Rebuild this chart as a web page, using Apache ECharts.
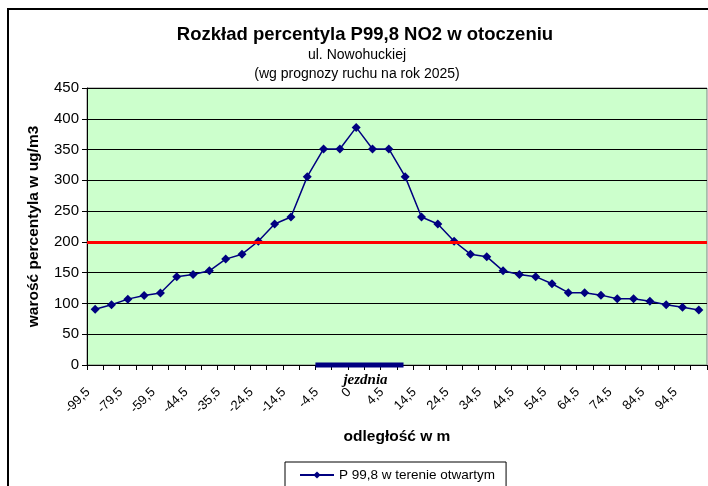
<!DOCTYPE html>
<html>
<head>
<meta charset="utf-8">
<script src="https://cdn.jsdelivr.net/npm/echarts@6/dist/echarts.min.js"></script>
<style>
  html, body { margin: 0; padding: 0; background: #fff; }
  #chart { width: 708px; height: 486px; }
</style>
</head>
<body>
<div id="chart"></div>
<script>
// odległość od osi jezdni [m] - co druga etykieta jest widoczna
const categories = [
  '-99,5', '-89,5', '-79,5', '-69,5', '-59,5', '-49,5', '-44,5', '-39,5', '-35,5', '-29,5',
  '-24,5', '-19,5', '-14,5', '-9,5', '-4,5', '-2', '0', '2', '4,5', '9,5',
  '14,5', '19,5', '24,5', '29,5', '34,5', '39,5', '44,5', '49,5', '54,5', '59,5',
  '64,5', '69,5', '74,5', '79,5', '84,5', '89,5', '94,5', '99,5'
];
// P99,8 NO2 [ug/m3]
const p998Values = [
  90.5, 98, 107, 113, 117, 143.5, 147, 153, 172, 180,
  201, 229, 240.5, 306, 351, 351, 386, 351, 351, 306,
  240.5, 229, 201, 180, 176, 153, 147, 143.5, 132, 117.5,
  117.5, 113.5, 107.5, 107.5, 103.5, 98, 94, 89.5
];
const limitValue = 200;       // wartość dopuszczalna
const yMin = 0, yMax = 450, yStep = 50;
// zakres jezdni w indeksach kategorii
const roadFrom = 13.5, roadTo = 18.9;

const FONT = '"Liberation Sans", Arial, sans-serif';

const chart = echarts.init(document.getElementById('chart'));

chart.setOption({
  animation: false,
  backgroundColor: '#fff',
  grid: {
    left: 87, right: 1, top: 88, bottom: 121,
    show: true,
    backgroundColor: '#CCFFCC',
    borderColor: '#808080',
    borderWidth: 1,
    outerBoundsMode: 'none'
  },
  legend: {
    left: 285, top: 462,
    padding: [6, 11, 6, 14],
    borderColor: '#000', borderWidth: 1,
    itemWidth: 34, itemHeight: 9,
    textStyle: { fontFamily: FONT, fontSize: 13.5, color: '#000' },
    data: ['P 99,8 w terenie otwartym']
  },
  xAxis: {
    type: 'category',
    data: categories,
    boundaryGap: true,
    name: 'odległość w m',
    nameLocation: 'middle',
    nameGap: 64,
    nameTextStyle: { fontFamily: FONT, fontSize: 15.5, fontWeight: 'bold', color: '#000' },
    axisLine: { lineStyle: { color: '#000', width: 1 } },
    axisTick: { show: true, interval: 0, length: 5, lineStyle: { color: '#000' } },
    axisLabel: { interval: 1, rotate: 45, margin: 18, padding: [0, 10, 0, 0],
                 fontFamily: FONT, fontSize: 13, color: '#000' },
    splitLine: { show: false }
  },
  yAxis: {
    type: 'value',
    min: yMin, max: yMax, interval: yStep,
    name: 'warość percentyla w ug/m3',
    nameLocation: 'middle',
    nameRotate: 90,
    nameGap: 45,
    nameTextStyle: { fontFamily: FONT, fontSize: 15.5, fontWeight: 'bold', color: '#000' },
    axisLine: { show: true, lineStyle: { color: '#000', width: 1 } },
    axisTick: { show: true, length: 5, lineStyle: { color: '#000' } },
    axisLabel: { margin: 8, fontFamily: FONT, fontSize: 15, color: '#000' },
    splitLine: { show: true, lineStyle: { color: '#000', width: 1 } }
  },
  series: [{
    name: 'P 99,8 w terenie otwartym',
    type: 'line',
    data: p998Values,
    symbol: 'diamond',
    symbolSize: 9,
    lineStyle: { color: '#000080', width: 1.5 },
    itemStyle: { color: '#000080' },
    z: 3,
    markLine: {
      silent: true,
      symbol: 'none',
      label: { show: false },
      lineStyle: { color: '#FF0000', width: 3, type: 'solid' },
      data: [{ yAxis: limitValue }]
    }
  }],
  graphic: [
    { id: 'frame', type: 'rect', shape: { x: 8, y: 9, width: 800, height: 600 },
      style: { fill: 'none', stroke: '#000', lineWidth: 2 }, silent: true },
    { id: 't1', type: 'text', x: 365, y: 35,
      style: { text: 'Rozkład percentyla P99,8 NO2 w otoczeniu', font: 'bold 18.5px ' + FONT,
               fill: '#000', align: 'center', verticalAlign: 'middle' } },
    { id: 't2', type: 'text', x: 357, y: 55,
      style: { text: 'ul. Nowohuckiej', font: '14px ' + FONT,
               fill: '#000', align: 'center', verticalAlign: 'middle' } },
    { id: 't3', type: 'text', x: 357, y: 74,
      style: { text: '(wg prognozy ruchu na rok 2025)', font: '14px ' + FONT,
               fill: '#000', align: 'center', verticalAlign: 'middle' } }
  ]
});

// jezdnia - pasek na osi X liczony ze skali osi
const p0 = chart.convertToPixel({ xAxisIndex: 0 }, 0);
const p1 = chart.convertToPixel({ xAxisIndex: 0 }, 1);
const step = p1 - p0;
const axisY = chart.convertToPixel({ yAxisIndex: 0 }, 0);
const xFrom = p0 + step * roadFrom;
const xTo = p0 + step * roadTo;

chart.setOption({
  graphic: [
    { id: 'road', type: 'rect', z: 100,
      shape: { x: xFrom, y: axisY - 2.5, width: xTo - xFrom, height: 5 },
      style: { fill: '#000080' } },
    { id: 'roadLabel', type: 'text', z: 100, x: (xFrom + xTo) / 2 + 6, y: axisY + 15,
      style: { text: 'jezdnia', font: 'italic bold 15px "Liberation Serif", "Times New Roman", serif',
               fill: '#000', align: 'center', verticalAlign: 'middle' } }
  ]
});
</script>
</body>
</html>
